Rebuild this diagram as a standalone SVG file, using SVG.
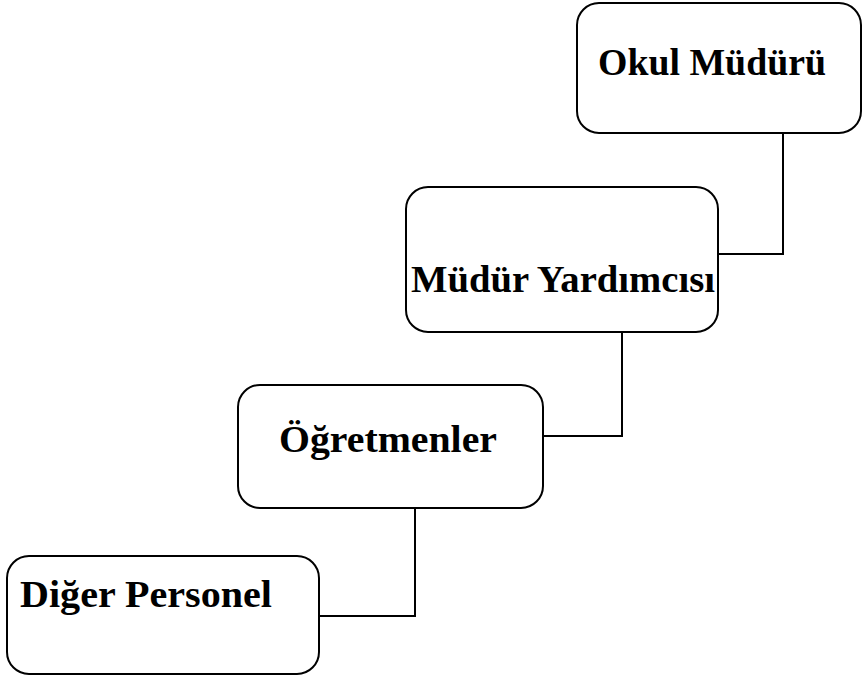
<svg xmlns="http://www.w3.org/2000/svg" width="862" height="678" viewBox="0 0 862 678">
<style>
.box{fill:#fff;stroke:#000;stroke-width:2}
.lbl{font-family:"Liberation Serif","DejaVu Serif",serif;font-weight:bold;font-size:38px;fill:#000}
.con{fill:none;stroke:#000;stroke-width:2}
</style>
<rect width="862" height="678" fill="#fff"/>
<g id="connectors">
<polyline class="con" points="783,133 783,254 718,254"/>
<polyline class="con" points="622,332 622,436 543,436"/>
<polyline class="con" points="415,508 415,616 319,616"/>
</g>
<g id="okul-muduru">
<rect class="box" x="577" y="3" width="284" height="130" rx="22"/>
<text class="lbl" x="598" y="75" textLength="228" lengthAdjust="spacingAndGlyphs">Okul Müdürü</text>
</g>
<g id="mudur-yardimcisi">
<rect class="box" x="406" y="187" width="312" height="145" rx="22"/>
<text class="lbl" x="411" y="292" textLength="304" lengthAdjust="spacingAndGlyphs">Müdür Yardımcısı</text>
</g>
<g id="ogretmenler">
<rect class="box" x="238" y="385" width="305" height="123" rx="22"/>
<text class="lbl" x="279" y="452" textLength="218" lengthAdjust="spacingAndGlyphs">Öğretmenler</text>
</g>
<g id="diger-personel">
<rect class="box" x="7" y="556" width="312" height="118" rx="22"/>
<text class="lbl" x="20" y="607" textLength="252" lengthAdjust="spacingAndGlyphs">Diğer Personel</text>
</g>
</svg>
